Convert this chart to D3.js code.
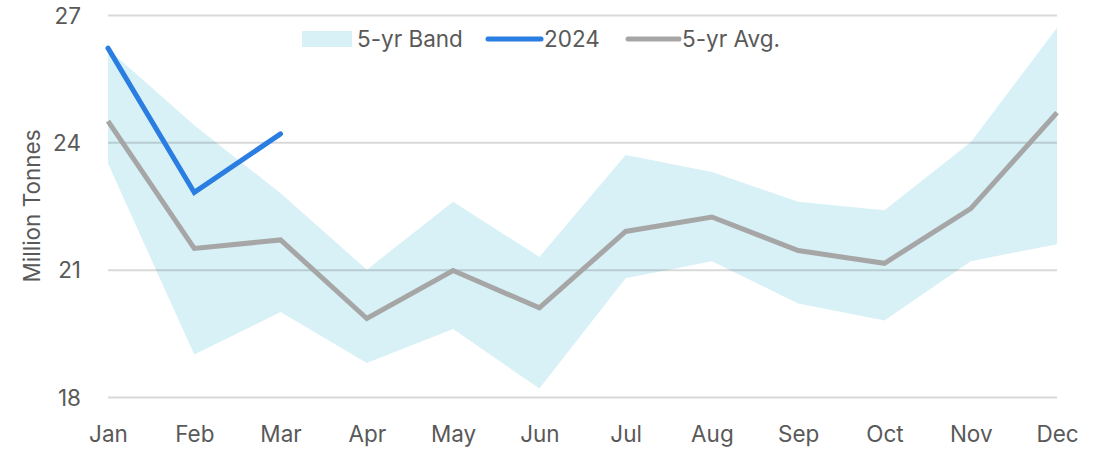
<!DOCTYPE html>
<html><head><meta charset="utf-8">
<script src="https://cdn.jsdelivr.net/npm/d3@7"></script>
<style>
html,body{margin:0;padding:0;background:#fff;}
text{font-family:Inter,"Noto Sans",sans-serif;fill:#595959;}
</style></head>
<body><svg id="c" width="1109" height="451"></svg>
<script>
const months = ["Jan","Feb","Mar","Apr","May","Jun","Jul","Aug","Sep","Oct","Nov","Dec"];
const bandHigh = [26.2,24.4,22.8,21.0,22.6,21.3,23.7,23.3,22.6,22.4,24.0,26.7];
const bandLow  = [23.5,19.0,20.0,18.8,19.6,18.2,20.8,21.2,20.2,19.8,21.2,21.6];
const avg5     = [24.5,21.5,21.7,19.85,20.98,20.1,21.9,22.24,21.45,21.15,22.44,24.7];
const y2024    = [26.22,22.82,24.2];
const yTicks   = [18,21,24,27];

const svg = d3.select("#c");
const x = d3.scalePoint().domain(months).range([108,1057]);
const y = d3.scaleLinear().domain([18,27]).range([397,15]);

// band
const area = d3.area().x((d,i)=>x(months[i])).y0((d,i)=>y(bandLow[i])).y1(d=>y(d));
svg.append("path").datum(bandHigh).attr("d",area).attr("fill","#d8f1f6");

// gridlines
const ya = d3.axisLeft(y).tickValues(yTicks).tickSize(-(1057-108)).tickFormat(d3.format("d"));
const gy = svg.append("g").attr("transform","translate(108,0)").call(ya);
gy.select(".domain").remove();
gy.selectAll(".tick line").attr("stroke","rgba(0,0,0,0.15)").attr("stroke-width",2);
gy.selectAll(".tick text").attr("x",-27).attr("font-size",22.5).attr("fill","#595959").attr("dy","0.36em");

// x axis
const xa = d3.axisBottom(x).tickSize(0);
const gx = svg.append("g").attr("transform","translate(0,397)").call(xa);
gx.select(".domain").remove();
gx.selectAll(".tick text").attr("font-size",22.5).attr("fill","#595959").attr("dy",0).attr("y",45);

// lines
const line = d3.line().x((d,i)=>x(months[i])).y(d=>y(d));
svg.append("path").datum(avg5).attr("d",line).attr("fill","none").attr("stroke","#a6a6a6").attr("stroke-width",5).attr("stroke-linejoin","miter");
svg.append("path").datum(y2024).attr("d",line).attr("fill","none").attr("stroke","#2a7de1").attr("stroke-width",5).attr("stroke-linecap","round");

// y title
svg.append("text").attr("transform","translate(40,206) rotate(-90)").attr("text-anchor","middle")
  .attr("font-size",22.5).text("Million Tonnes");

// legend
const lg = svg.append("g");
lg.append("rect").attr("x",302).attr("y",31).attr("width",50).attr("height",16).attr("fill","#d8f1f6");
lg.append("text").attr("x",357).attr("y",39).attr("dy","0.36em").attr("font-size",22.5).text("5-yr Band");
lg.append("line").attr("x1",488).attr("x2",541).attr("y1",39).attr("y2",39).attr("stroke","#2a7de1").attr("stroke-width",5).attr("stroke-linecap","round");
lg.append("text").attr("x",544).attr("y",39).attr("dy","0.36em").attr("font-size",22.5).text("2024");
lg.append("line").attr("x1",628).attr("x2",679).attr("y1",39).attr("y2",39).attr("stroke","#a6a6a6").attr("stroke-width",5).attr("stroke-linecap","round");
lg.append("text").attr("x",682).attr("y",39).attr("dy","0.36em").attr("font-size",22.5).text("5-yr Avg.");
</script></body></html>
